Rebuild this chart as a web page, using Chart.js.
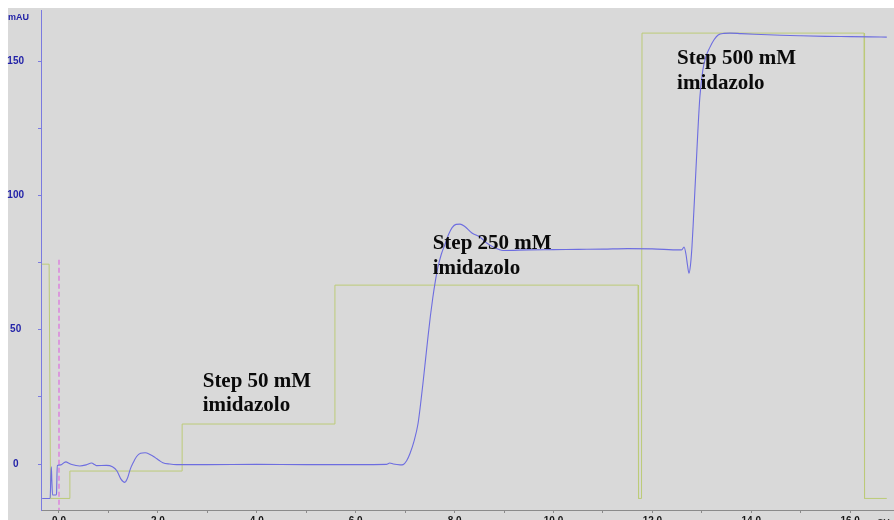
<!DOCTYPE html>
<html>
<head>
<meta charset="utf-8">
<script src="https://cdn.jsdelivr.net/npm/chart.js@4/dist/chart.umd.min.js"></script>
<style>
  html, body { margin: 0; padding: 0; background: #ffffff; }
  #wrap { width: 894px; height: 520px; position: relative; }
</style>
</head>
<body>
<div id="wrap"><canvas id="chart" width="894" height="520"></canvas></div>
<script>
// UV absorbance trace (280 nm), column volumes vs mAU
const uvCV = [
  -0.34, -0.18, -0.165, -0.155, -0.145, -0.13, -0.06, -0.05, -0.035, 0.04, 0.1, 0.14, 0.2, 0.26,
  0.42, 0.55, 0.66, 0.72, 0.76, 0.96, 1.08, 1.17, 1.25, 1.33, 1.39, 1.44, 1.5, 1.57, 1.65, 1.74,
  1.84, 1.94, 2.03, 2.1, 2.24, 2.38, 3.0, 4.0, 5.0, 6.0, 6.62, 6.69, 6.76, 6.9, 6.96, 7.03, 7.1,
  7.18, 7.26, 7.31, 7.36, 7.41, 7.46, 7.51, 7.56, 7.61, 7.66, 7.73, 7.81, 7.88, 7.95, 8.03, 8.11,
  8.2, 8.35, 8.51, 8.65, 8.78, 8.98, 9.5, 10.0, 10.5, 11.0, 11.5, 12.0, 12.55, 12.6, 12.64, 12.68,
  12.71, 12.74, 12.77, 12.8, 12.83, 12.86, 12.89, 12.92, 12.96, 13.02, 13.08, 13.16, 13.25, 13.33,
  13.45, 13.57, 13.8, 14.2, 14.6, 15.0, 15.5, 16.0, 16.4, 16.74
];
const uvMAU = [
  -12.8, -12.8, -5, -1, -6, -11.5, -11.5, -11, -0.5, -0.3, 0.5, 0.8, 0.3, -0.2,
  -0.7, -0.3, 0.4, -0.2, -0.6, -0.5, -1, -2.5, -5.5, -6.8, -5, -2, 0.5, 2.8, 4, 4.2,
  3.6, 2.5, 1.3, 0.5, 0, -0.2, -0.2, -0.1, -0.2, -0.2, -0.1, 0.4, 0.0, -0.3, -0.2, 1.2, 4,
  8.5, 15, 22, 30, 38.5, 47, 55, 62, 68, 73, 78, 82, 85.5, 88, 89.2, 89.3,
  88.5, 86, 84.5, 82.3, 80.8, 79.5, 79.7, 79.8, 79.9, 80.0, 80.2, 80.1, 79.7, 79.8, 80.8, 78,
  74, 71, 74, 80.8, 91, 102, 113, 124, 136.6, 146.6, 151.5, 155, 158, 159.7,
  160.3, 160.4, 160.2, 159.9, 159.6, 159.4, 159.2, 159.1, 159.0, 158.9
];

// Imidazole step programme (concentration trace on the same axis)
const stepCV = [-0.35, -0.2, -0.17, 0.22, 0.22, 2.49, 2.49, 5.58, 5.58, 11.71, 11.72, 11.78, 11.79, 16.28, 16.29, 16.74];
const stepLevel = [74.4, 74.4, -12.8, -12.8, -2.6, -2.6, 14.9, 14.9, 66.6, 66.6, -12.8, -12.8, 160.4, 160.4, -12.8, -12.8];

// Injection mark
const injectCV = [0, 0];
const injectLevel = [76, -17.1];

// Axis ticks
const xTicks = [0, 1, 2, 3, 4, 5, 6, 7, 8, 9, 10, 11, 12, 13, 14, 15, 16];
const xTickLabels = ['0.0', '', '2.0', '', '4.0', '', '6.0', '', '8.0', '', '10.0', '', '12.0', '', '14.0', '', '16.0'];
const yTicks = [0, 25, 50, 75, 100, 125, 150];
const yTickLabels = ['0', '', '50', '', '100', '', '150'];

// Step annotations
const stepNames = [['Step 50 mM', 'imidazolo'], ['Step 250 mM', 'imidazolo'], ['Step 500 mM', 'imidazolo']];
const stepNameCV = [2.906, 7.557, 12.50];
const stepNameMAU = [28.7, 80.0, 148.9];

const toPoints = (xs, ys) => xs.map((x, i) => ({ x, y: ys[i] }));

const panelPlugin = {
  id: 'panel',
  beforeDraw(chart) {
    const ctx = chart.ctx;
    ctx.save();
    ctx.fillStyle = '#d9d9d9';
    ctx.fillRect(8, 8, chart.width - 8, chart.height - 8);
    ctx.restore();
  }
};

const textPlugin = {
  id: 'texts',
  afterDraw(chart) {
    const ctx = chart.ctx;
    const xs = chart.scales.x, ys = chart.scales.y;
    ctx.save();
    ctx.fillStyle = '#0a0a0a';
    ctx.font = 'bold 21px "Liberation Serif", "Times New Roman", serif';
    ctx.textAlign = 'left';
    ctx.textBaseline = 'alphabetic';
    stepNames.forEach((lines, i) => {
      const px = xs.getPixelForValue(stepNameCV[i]);
      const py = ys.getPixelForValue(stepNameMAU[i]);
      lines.forEach((t, j) => ctx.fillText(t, px, py + j * 24.5));
    });
    // axis units
    ctx.fillStyle = '#2323a8';
    ctx.font = 'bold 9px "Liberation Sans", Arial, sans-serif';
    ctx.fillText('mAU', 8, 20);
    ctx.fillStyle = '#333333';
    ctx.fillText('CV', 877, 525);
    ctx.restore();
  }
};

new Chart(document.getElementById('chart'), {
  type: 'line',
  data: {
    datasets: [
      {
        label: 'UV',
        data: toPoints(uvCV, uvMAU),
        borderColor: '#6d6de0',
        borderWidth: 1.1,
        pointRadius: 0,
        cubicInterpolationMode: 'monotone',
        fill: false,
        order: 0
      },
      {
        label: 'Injection',
        data: toPoints(injectCV, injectLevel),
        borderColor: '#dc6ede',
        borderWidth: 1.2,
        borderDash: [5, 3],
        pointRadius: 0,
        tension: 0,
        fill: false,
        order: 1
      },
      {
        label: 'Imidazole',
        data: toPoints(stepCV, stepLevel),
        borderColor: '#bccb78',
        borderWidth: 1,
        pointRadius: 0,
        tension: 0,
        fill: false,
        order: 2
      }
    ]
  },
  options: {
    responsive: false,
    animation: false,
    devicePixelRatio: 1,
    layout: { padding: { top: 10, right: 0, bottom: 0, left: 0 } },
    plugins: { legend: { display: false }, tooltip: { enabled: false } },
    scales: {
      x: {
        type: 'linear',
        min: -0.364,
        max: 16.886,
        afterFit(scale) {
          scale.height = 10;
          scale.paddingLeft = 0; scale.paddingRight = 0;
          scale.paddingTop = 0; scale.paddingBottom = 0;
        },
        afterBuildTicks(scale) { scale.ticks = xTicks.map(v => ({ value: v })); },
        border: { color: '#8a8a8a', width: 1 },
        grid: { drawOnChartArea: false, drawTicks: true, tickLength: 3, color: '#8a8a8a' },
        ticks: {
          autoSkip: false,
          maxRotation: 0,
          padding: 2,
          color: '#151515',
          font: { family: '"Liberation Sans", Arial, sans-serif', size: 10, weight: 'bold' },
          callback(v) { const i = xTicks.indexOf(v); return i >= 0 ? xTickLabels[i] : ''; }
        }
      },
      y: {
        type: 'linear',
        min: -17.1,
        max: 169,
        afterFit(scale) {
          scale.width = 41;
          scale.paddingLeft = 0; scale.paddingRight = 0;
          scale.paddingTop = 0; scale.paddingBottom = 0;
        },
        afterBuildTicks(scale) { scale.ticks = yTicks.map(v => ({ value: v })); },
        border: { color: '#7a7ae0', width: 1 },
        grid: { drawOnChartArea: false, drawTicks: true, tickLength: 3, color: '#7a7ae0' },
        ticks: {
          autoSkip: false,
          crossAlign: 'center',
          padding: 14,
          color: '#2323a8',
          font: { family: '"Liberation Sans", Arial, sans-serif', size: 10, weight: 'bold' },
          callback(v) { const i = yTicks.indexOf(v); return i >= 0 ? yTickLabels[i] : ''; }
        }
      }
    }
  },
  plugins: [panelPlugin, textPlugin]
});
</script>
</body>
</html>
